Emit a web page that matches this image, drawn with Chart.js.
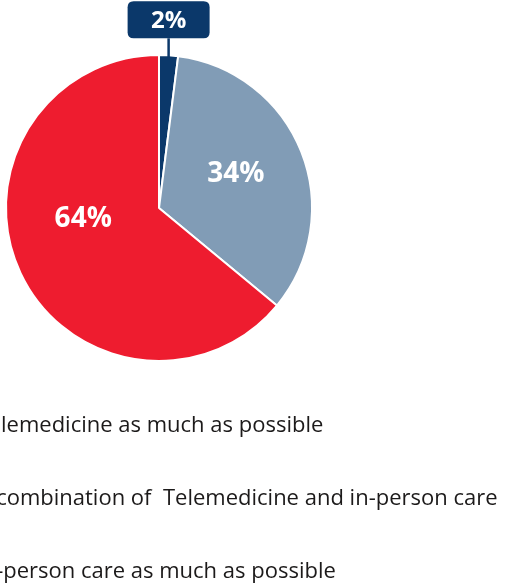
<!DOCTYPE html>
<html>
<head>
<meta charset="utf-8">
<style>
  html, body { margin: 0; padding: 0; background: #ffffff; }
  #wrap { position: relative; width: 510px; height: 588px; }
</style>
<script src="https://cdn.jsdelivr.net/npm/chart.js@4/dist/chart.umd.min.js"></script>
</head>
<body>
<div id="wrap"><canvas id="chart" width="510" height="588"></canvas></div>
<script>
// Survey answers: preferred way of receiving care
const categories = [
  'Telemedicine as much as possible',
  'A combination of  Telemedicine and in-person care',
  'In-person care as much as possible'
];
const shares = [2, 34, 64];
const sliceColors = ['#0b386a', '#819cb6', '#ee1c2f'];

// Where each in-slice percentage sits: angle (degrees clockwise from 12 o'clock) and distance as a fraction of the radius
const labelPlacement = [
  null,                       // the small slice gets a callout box instead
  { angle: 66, dist: 0.55 },
  { angle: 262, dist: 0.50 }
];

const LEGEND_FONT = '22px "Open Sans", "Noto Sans", sans-serif';
const VALUE_FONT = 'bold 28px "Open Sans", "Noto Sans", sans-serif';
const CALLOUT_FONT = 'bold 24px "Open Sans", "Noto Sans", sans-serif';

function roundRect(ctx, x, y, w, h, r) {
  ctx.beginPath();
  ctx.moveTo(x + r, y);
  ctx.lineTo(x + w - r, y);
  ctx.quadraticCurveTo(x + w, y, x + w, y + r);
  ctx.lineTo(x + w, y + h - r);
  ctx.quadraticCurveTo(x + w, y + h, x + w - r, y + h);
  ctx.lineTo(x + r, y + h);
  ctx.quadraticCurveTo(x, y + h, x, y + h - r);
  ctx.lineTo(x, y + r);
  ctx.quadraticCurveTo(x, y, x + r, y);
  ctx.closePath();
}

// Percentages written inside the two large slices
const sliceValueLabels = {
  id: 'sliceValueLabels',
  afterDatasetsDraw(chart) {
    const ctx = chart.ctx;
    const arcs = chart.getDatasetMeta(0).data;
    ctx.save();
    ctx.font = VALUE_FONT;
    ctx.fillStyle = '#ffffff';
    ctx.textAlign = 'center';
    ctx.textBaseline = 'middle';
    arcs.forEach((arc, i) => {
      const p = labelPlacement[i];
      if (!p) return;
      const a = (p.angle - 90) * Math.PI / 180;
      const r = arc.outerRadius * p.dist;
      ctx.fillText(shares[i] + '%', arc.x + Math.cos(a) * r, arc.y + Math.sin(a) * r);
    });
    ctx.restore();
  }
};

// Callout box above the thin slice
const smallSliceCallout = {
  id: 'smallSliceCallout',
  afterDatasetsDraw(chart) {
    const ctx = chart.ctx;
    const arc = chart.getDatasetMeta(0).data[0];
    const mid = (arc.startAngle + arc.endAngle) / 2;
    const ex = arc.x + Math.cos(mid) * arc.outerRadius;
    const ey = arc.y + Math.sin(mid) * arc.outerRadius;
    const boxW = 82, boxH = 37, boxBottom = ey - 17;
    ctx.save();
    ctx.strokeStyle = sliceColors[0];
    ctx.lineWidth = 2.5;
    ctx.beginPath();
    ctx.moveTo(ex, ey + 2);
    ctx.lineTo(ex, boxBottom);
    ctx.stroke();
    ctx.fillStyle = sliceColors[0];
    roundRect(ctx, ex - boxW / 2, boxBottom - boxH, boxW, boxH, 6);
    ctx.fill();
    ctx.font = CALLOUT_FONT;
    ctx.fillStyle = '#ffffff';
    ctx.textAlign = 'center';
    ctx.textBaseline = 'middle';
    ctx.fillText(shares[0] + '%', ex, boxBottom - boxH / 2 + 1);
    ctx.restore();
  }
};

// Legend text rows under the pie
const legendRows = {
  id: 'legendRows',
  afterDraw(chart) {
    const ctx = chart.ctx;
    ctx.save();
    ctx.font = LEGEND_FONT;
    ctx.fillStyle = '#1c1a1a';
    ctx.textAlign = 'left';
    ctx.textBaseline = 'alphabetic';
    const x0 = 1 - ctx.measureText('Te').width;
    const firstBaseline = 432, rowGap = 73;
    categories.forEach((name, i) => {
      ctx.fillText(name, x0, firstBaseline + i * rowGap);
    });
    ctx.restore();
  }
};

new Chart(document.getElementById('chart'), {
  type: 'pie',
  data: {
    labels: categories,
    datasets: [{
      data: shares,
      backgroundColor: sliceColors,
      borderColor: '#ffffff',
      borderWidth: 2
    }]
  },
  options: {
    responsive: false,
    animation: false,
    layout: { padding: { left: 5, right: 197, top: 54, bottom: 226 } },
    plugins: {
      legend: { display: false },
      tooltip: { enabled: false }
    }
  },
  plugins: [sliceValueLabels, smallSliceCallout, legendRows]
});
</script>
</body>
</html>
